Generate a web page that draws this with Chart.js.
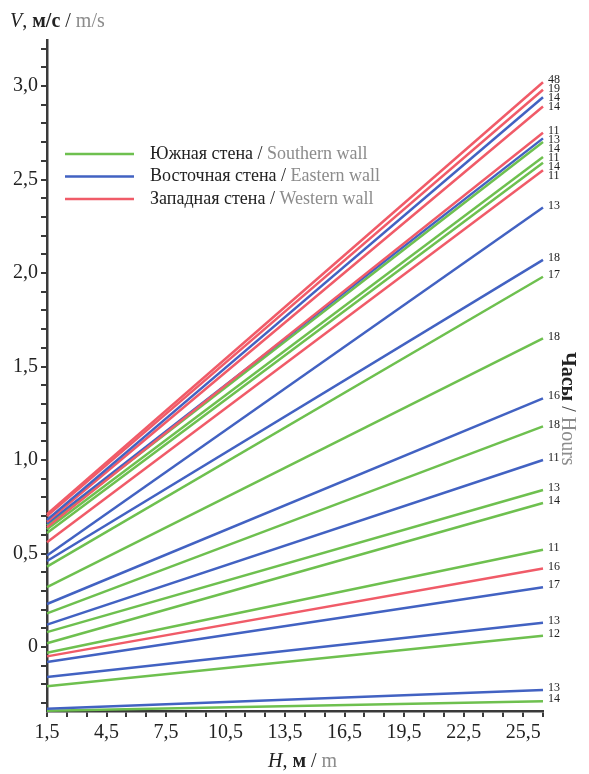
<!DOCTYPE html>
<html>
<head>
<meta charset="utf-8">
<script src="https://cdn.jsdelivr.net/npm/chart.js@4"></script>
<style>
  body { margin: 0; background: #fff; }
  canvas { display: block; }
</style>
</head>
<body>
<canvas id="chartCanvas" width="589" height="774"></canvas>
<script>
// H, m (ends of every line)
const hPoints = [1.5, 26.5];

// one entry per line, top to bottom at the right edge
const hours = [48, 19, 14, 14, 11, 13, 14, 11, 14, 11, 13, 18, 17, 18, 16, 18, 11, 13, 14, 11, 16, 17, 13, 12, 13, 14];
const walls = ['W', 'W', 'E', 'W', 'W', 'E', 'S', 'S', 'S', 'W', 'E', 'E', 'S', 'S', 'E', 'S', 'E', 'S', 'S', 'S', 'W', 'E', 'E', 'S', 'E', 'S'];
const vStart = [0.71, 0.70, 0.68, 0.67, 0.64, 0.66, 0.65, 0.63, 0.61, 0.56, 0.49, 0.46, 0.43, 0.32, 0.23, 0.18, 0.12, 0.08, 0.02, -0.03, -0.05, -0.08, -0.16, -0.21, -0.33, -0.34];
const vEnd = [3.02, 2.98, 2.94, 2.89, 2.75, 2.72, 2.70, 2.62, 2.59, 2.55, 2.35, 2.07, 1.98, 1.65, 1.33, 1.18, 1.00, 0.84, 0.77, 0.52, 0.42, 0.32, 0.13, 0.06, -0.23, -0.29];

const xTickValues = [1.5, 4.5, 7.5, 10.5, 13.5, 16.5, 19.5, 22.5, 25.5];
const xTickLabels = ['1,5', '4,5', '7,5', '10,5', '13,5', '16,5', '19,5', '22,5', '25,5'];
const yTickValues = [0, 0.5, 1.0, 1.5, 2.0, 2.5, 3.0];
const yTickLabels = ['0', '0,5', '1,0', '1,5', '2,0', '2,5', '3,0'];

const wallColors = { S: '#6ec04f', E: '#4262c2', W: '#f05b68' };
const legendItems = [
  { wall: 'S', ru: 'Южная стена', en: 'Southern wall' },
  { wall: 'E', ru: 'Восточная стена', en: 'Eastern wall' },
  { wall: 'W', ru: 'Западная стена', en: 'Western wall' },
];

const SERIF = '"Liberation Serif", "DejaVu Serif", serif';
const GREY = '#8c8c8c';

const datasets = hours.map((h, i) => ({
  label: walls[i] + ' ' + h,
  data: [{ x: hPoints[0], y: vStart[i] }, { x: hPoints[1], y: vEnd[i] }],
  borderColor: wallColors[walls[i]],
  borderWidth: 2.5,
  pointRadius: 0,
  fill: false,
  clip: false,
}));

// draws a run of differently styled pieces starting at x, y
function drawRun(ctx, x, y, parts) {
  parts.forEach(p => {
    ctx.font = p.font;
    ctx.fillStyle = p.color;
    ctx.fillText(p.text, x, y);
    x += ctx.measureText(p.text).width;
  });
}

const decorPlugin = {
  id: 'decor',
  afterDatasetsDraw(chart) {
    const ctx = chart.ctx;
    ctx.save();

    // hour labels at line ends, pushed apart a little where they crowd
    ctx.font = '12px ' + SERIF;
    ctx.fillStyle = '#222';
    ctx.textBaseline = 'middle';
    ctx.textAlign = 'left';
    let lastY = -Infinity;
    chart.data.datasets.forEach((ds, i) => {
      const pt = chart.getDatasetMeta(i).data[1];
      let y = pt.y - 2;
      if (y - lastY < 9) y = lastY + 9;
      lastY = y;
      ctx.fillText(String(hours[i]), pt.x + 5, y);
    });

    // legend
    legendItems.forEach((item, k) => {
      const y = 154 + k * 22.5;
      ctx.strokeStyle = wallColors[item.wall];
      ctx.lineWidth = 2.5;
      ctx.beginPath();
      ctx.moveTo(65, y);
      ctx.lineTo(134, y);
      ctx.stroke();
      drawRun(ctx, 150, y, [
        { text: item.ru + ' / ', font: '18px ' + SERIF, color: '#222' },
        { text: item.en, font: '18px ' + SERIF, color: GREY },
      ]);
    });

    // axis titles
    ctx.textBaseline = 'alphabetic';
    drawRun(ctx, 10, 27, [
      { text: 'V', font: 'italic 20px ' + SERIF, color: '#222' },
      { text: ', ', font: '20px ' + SERIF, color: '#222' },
      { text: 'м/с', font: 'bold 20px ' + SERIF, color: '#222' },
      { text: ' / ', font: '20px ' + SERIF, color: '#222' },
      { text: 'm/s', font: '20px ' + SERIF, color: GREY },
    ]);
    drawRun(ctx, 268, 767, [
      { text: 'H', font: 'italic 20px ' + SERIF, color: '#222' },
      { text: ', ', font: '20px ' + SERIF, color: '#222' },
      { text: 'м', font: 'bold 20px ' + SERIF, color: '#222' },
      { text: ' / ', font: '20px ' + SERIF, color: '#222' },
      { text: 'm', font: '20px ' + SERIF, color: GREY },
    ]);

    ctx.translate(567, 352);
    ctx.rotate(Math.PI / 2);
    ctx.textBaseline = 'middle';
    drawRun(ctx, 0, 0, [
      { text: 'Часы', font: 'bold 20px ' + SERIF, color: '#222' },
      { text: ' / ', font: '20px ' + SERIF, color: '#444' },
      { text: 'Hours', font: '20px ' + SERIF, color: GREY },
    ]);
    ctx.restore();
  },
};

const axisStyle = {
  grid: { display: true, drawOnChartArea: false, drawTicks: true, tickLength: 6, color: '#3a3a3a', lineWidth: 2 },
  border: { display: true, color: '#3a3a3a', width: 2.5 },
};

new Chart(document.getElementById('chartCanvas').getContext('2d'), {
  type: 'line',
  data: { datasets },
  options: {
    responsive: false,
    animation: false,
    layout: { padding: { top: 40, right: 46, left: 0, bottom: 0 } },
    plugins: { legend: { display: false }, tooltip: { enabled: false } },
    scales: {
      x: {
        type: 'linear',
        min: 1.5,
        max: 26.5,
        ...axisStyle,
        afterBuildTicks(scale) {
          const t = [];
          for (let v = 1.5; v <= 26.51; v += 1) t.push({ value: v });
          scale.ticks = t;
        },
        afterFit(scale) { scale.height = 63; },
        ticks: {
          autoSkip: false,
          maxRotation: 0,
          padding: 4,
          color: '#222',
          font: { family: SERIF, size: 20 },
          callback(value) {
            const k = xTickValues.findIndex(v => Math.abs(v - value) < 1e-6);
            return k >= 0 ? xTickLabels[k] : '';
          },
        },
      },
      y: {
        type: 'linear',
        min: -0.342,
        max: 3.246,
        ...axisStyle,
        afterBuildTicks(scale) {
          const t = [];
          for (let k = -3; k <= 32; k++) t.push({ value: k / 10 });
          scale.ticks = t;
        },
        afterFit(scale) { scale.width = 47; },
        ticks: {
          autoSkip: false,
          padding: 3,
          color: '#222',
          font: { family: SERIF, size: 20 },
          callback(value) {
            const k = yTickValues.findIndex(v => Math.abs(v - value) < 1e-6);
            return k >= 0 ? yTickLabels[k] : '';
          },
        },
      },
    },
  },
  plugins: [decorPlugin],
});
</script>
</body>
</html>
